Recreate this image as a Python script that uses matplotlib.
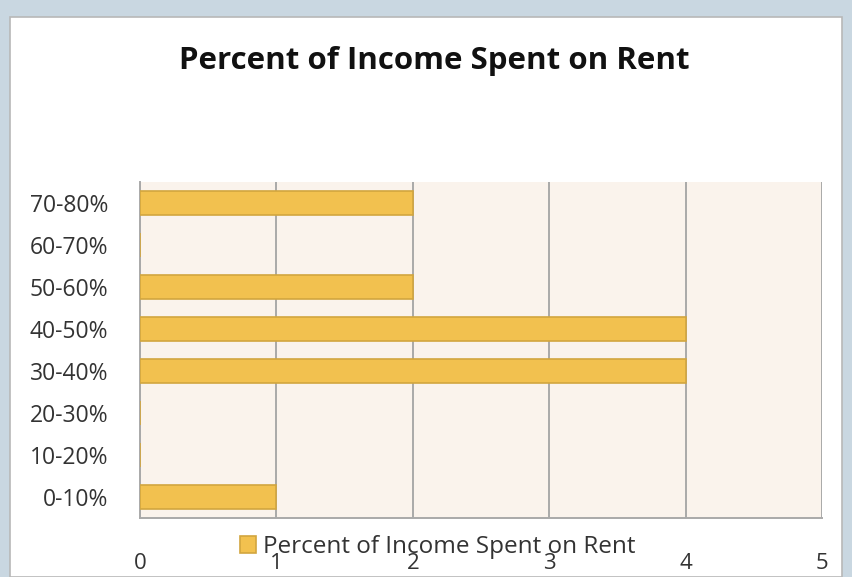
import matplotlib.pyplot as plt
from matplotlib.patches import Rectangle

plt.rcParams['font.family'] = ['Open Sans', 'DejaVu Sans']

categories = ['0-10%', '10-20%', '20-30%', '30-40%', '40-50%', '50-60%', '60-70%', '70-80%']
counts = [1, 0, 0, 4, 4, 2, 0, 2]
series_name = 'Percent of Income Spent on Rent'

fig = plt.figure(figsize=(8.53, 5.77), dpi=100)
fig.patch.set_facecolor('#C9D7E1')
# white chart panel behind everything
panel = Rectangle((10/853, 0), 832/853, 560/577, transform=fig.transFigure,
                  facecolor='white', edgecolor='#B8B8B8', linewidth=1.2, zorder=-5)
fig.add_artist(panel)

ax = fig.add_axes([140/853, 59/577, 682/853, 336/577])
ax.set_zorder(2)
ax.set_facecolor('#FAF3EC')
bars = ax.barh(range(len(categories)), counts, height=0.58, color='#F2C14F',
               edgecolor='#D2A63F', linewidth=1.2, label=series_name, zorder=3)
ax.set_xlim(0, 5)
ax.set_ylim(-0.5, len(categories) - 0.5)
ax.set_xticks(range(6))
ax.set_yticks(range(len(categories)))
ax.set_yticklabels(categories, fontsize=16.5, color='#333333')
ax.tick_params(axis='x', labelsize=16, colors='#333333', length=0, pad=25)
ax.tick_params(axis='y', length=0, pad=23)
ax.grid(axis='x', color='#A9A9A9', linewidth=1.4, zorder=1)
for s in ['top', 'right']:
    ax.spines[s].set_visible(False)
for s in ['left', 'bottom']:
    ax.spines[s].set_color('#A9A9A9')
    ax.spines[s].set_linewidth(1.4)

fig.text(434/853, 1 - 61/577, 'Percent of Income Spent on Rent', ha='center', va='center',
         fontsize=22.5, fontweight='bold', color='#111111')

ax.legend(loc='center', bbox_to_anchor=(438/853, 1 - 547/577), bbox_transform=fig.transFigure,
          frameon=False, fontsize=17.5, handlelength=0.65, handleheight=0.65, handletextpad=0.3,
          labelcolor='#333333', borderpad=0)

fig.savefig('out.png', dpi=100, facecolor=fig.get_facecolor())
